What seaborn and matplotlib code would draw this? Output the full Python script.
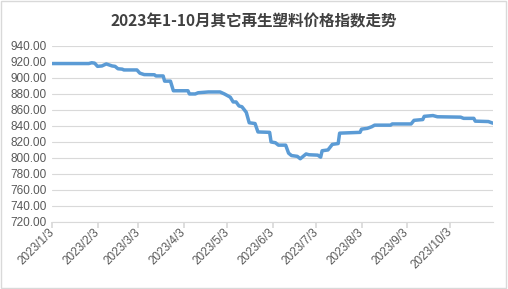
import matplotlib
matplotlib.use("Agg")
import matplotlib.pyplot as plt
import matplotlib.transforms as mtrans
import seaborn as sns
import pandas as pd
from matplotlib.patches import Rectangle

dates = ["2023-01-03", "2023-01-28", "2023-01-30", "2023-02-01", "2023-02-03", "2023-02-06",
         "2023-02-09", "2023-02-13", "2023-02-15", "2023-02-17", "2023-02-20", "2023-02-21",
         "2023-03-02", "2023-03-04", "2023-03-07", "2023-03-14", "2023-03-15", "2023-03-20",
         "2023-03-21", "2023-03-25", "2023-03-27", "2023-04-06", "2023-04-07", "2023-04-11",
         "2023-04-13", "2023-04-20", "2023-04-28", "2023-05-01", "2023-05-05", "2023-05-07",
         "2023-05-09", "2023-05-11", "2023-05-13", "2023-05-16", "2023-05-18", "2023-05-22",
         "2023-05-24", "2023-06-01", "2023-06-02", "2023-06-05", "2023-06-07", "2023-06-12",
         "2023-06-14", "2023-06-16", "2023-06-20", "2023-06-22", "2023-06-26", "2023-06-28",
         "2023-07-04", "2023-07-06", "2023-07-07", "2023-07-11", "2023-07-14", "2023-07-18",
         "2023-07-19", "2023-08-02", "2023-08-03", "2023-08-07", "2023-08-10", "2023-08-12",
         "2023-08-23", "2023-08-24", "2023-09-06", "2023-09-08", "2023-09-14", "2023-09-15",
         "2023-09-21", "2023-09-24", "2023-10-10", "2023-10-12", "2023-10-19", "2023-10-20",
         "2023-10-29", "2023-11-01"]
values = [918, 918, 919, 918.5, 914.5, 915,
          917.5, 915, 914.5, 911.5, 911, 910,
          910, 906, 904.2, 904, 902.5, 902.5,
          896, 896, 884, 884, 880, 880,
          881.5, 882.5, 882.5, 880, 876, 870,
          870, 865, 864, 857, 844, 843,
          832.5, 832, 820, 819, 816, 816,
          806, 803, 802, 799, 805, 804,
          803.5, 801, 809, 810, 817, 818,
          831, 832, 836, 837, 839, 841,
          841, 842.5, 842.5, 847, 848, 852,
          853, 851.5, 851, 849.5, 849.5, 846,
          845.5, 843.5]

tick_dates = ["2023-01-03", "2023-02-03", "2023-03-03", "2023-04-03", "2023-05-03",
              "2023-06-03", "2023-07-03", "2023-08-03", "2023-09-03", "2023-10-03"]
tick_labels = ["2023/1/3", "2023/2/3", "2023/3/3", "2023/4/3", "2023/5/3",
               "2023/6/3", "2023/7/3", "2023/8/3", "2023/9/3", "2023/10/3"]
y_ticks = [720, 740, 760, 780, 800, 820, 840, 860, 880, 900, 920, 940]
title = "2023年1-10月其它再生塑料价格指数走势"

sns.set_theme(style="white")
plt.rcParams['font.family'] = ['Noto Sans CJK SC', 'DejaVu Sans']

df = pd.DataFrame({"date": pd.to_datetime(dates), "value": values})

fig = plt.figure(figsize=(5.08, 2.89), dpi=100)
ax = fig.add_axes([0.103, 0.232, 0.867, 0.609])

sns.lineplot(data=df, x="date", y="value", ax=ax, color="#5B9BD5", linewidth=2.5)

ax.set_xlim(pd.Timestamp("2023-01-03"), pd.Timestamp("2023-11-01"))
ax.set_ylim(720, 940)
ax.set_yticks(y_ticks)
ax.set_yticklabels([f"{v:.2f}" for v in y_ticks], fontsize=8.5, color="#595959",
                   family=['Liberation Sans'])
ax.set_xticks(pd.to_datetime(tick_dates))
ax.set_xticklabels(tick_labels, rotation=45, ha="right", va="center", rotation_mode="anchor",
                   fontsize=8.5, color="#595959", family=['Liberation Sans'])
offset = mtrans.ScaledTranslation(3 / 100, -10 / 100, fig.dpi_scale_trans)
for lbl in ax.get_xticklabels():
    lbl.set_transform(lbl.get_transform() + offset)
ax.tick_params(axis="x", which="major", length=4, color="#D9D9D9", pad=2, bottom=True)
ax.tick_params(axis="y", length=0, pad=4)
ax.grid(axis="y", color="#D9D9D9", linewidth=0.8)
ax.set_axisbelow(True)
for s in ["top", "right", "left"]:
    ax.spines[s].set_visible(False)
ax.spines["bottom"].set_color("#D9D9D9")
ax.spines["bottom"].set_linewidth(0.8)
ax.set_xlabel("")
ax.set_ylabel("")

fig.text(0.5, 0.925, title, ha="center", va="center", fontsize=11.2, fontweight="bold",
         color="#404040")
fig.patches.append(Rectangle((0.002, 0.003), 0.995, 0.993, transform=fig.transFigure,
                             fill=False, edgecolor="#D9D9D9", linewidth=1))

fig.savefig("out.png", dpi=100)
